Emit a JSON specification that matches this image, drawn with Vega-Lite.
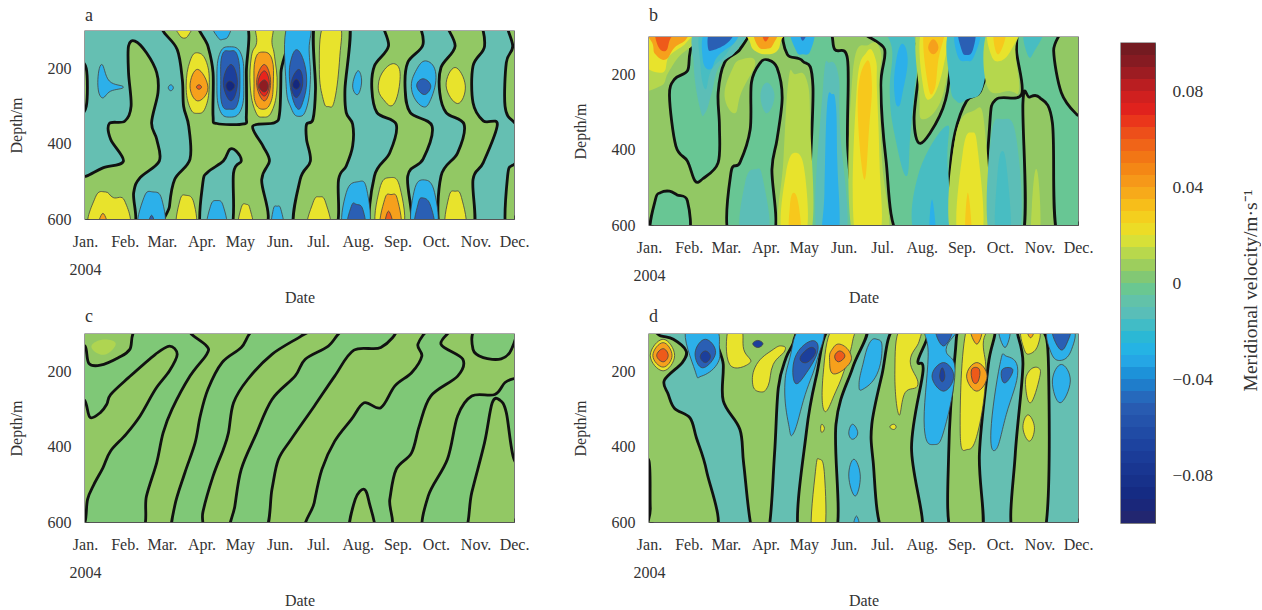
{"$schema":"https://vega.github.io/schema/vega-lite/v6.json","padding":{"left":7,"top":6,"right":0,"bottom":0},"background":"white",
"config":{"view":{"stroke":"#555","strokeWidth":1.4},"font":"Liberation Serif","axis":{"labelFont":"Liberation Serif","titleFont":"Liberation Serif","labelFontSize":16,"titleFontSize":16,"titleFontWeight":"normal","labelColor":"#333","titleColor":"#333","grid":false,"domainColor":"#555","tickColor":"#444","tickSize":-4,"zindex":1,"labelOverlap":false,"labelFlush":false},"title":{"font":"Liberation Serif","fontSize":18,"fontWeight":"normal","anchor":"start","color":"#333","frame":"group"}},
"datasets":{
"regions":[{"r":"a0","v":-0.01},{"r":"a1","v":0.005},{"r":"a2","v":0.005},{"r":"a3","v":0.005},{"r":"a4","v":-0.01},{"r":"a5","v":-0.01},{"r":"a6","v":0.005},{"r":"a7","v":0.005},{"r":"a8","v":0.005},{"r":"a9","v":0.005},{"r":"a10","v":0.005},{"r":"a11","v":-0.03},{"r":"a12","v":-0.03},{"r":"a13","v":0.02},{"r":"a14","v":-0.03},{"r":"a15","v":0.02},{"r":"a16","v":0.04},{"r":"a17","v":0.06},{"r":"a18","v":-0.03},{"r":"a19","v":-0.05},{"r":"a20","v":-0.07},{"r":"a21","v":-0.09},{"r":"a22","v":0.02},{"r":"a23","v":0.04},{"r":"a24","v":0.06},{"r":"a25","v":0.07},{"r":"a26","v":0.09},{"r":"a27","v":-0.03},{"r":"a28","v":-0.05},{"r":"a29","v":-0.07},{"r":"a30","v":-0.09},{"r":"a31","v":0.02},{"r":"a32","v":0.02},{"r":"a33","v":0.02},{"r":"a34","v":0.04},{"r":"a35","v":-0.03},{"r":"a36","v":-0.05},{"r":"a37","v":0.02},{"r":"a38","v":-0.03},{"r":"a39","v":0.02},{"r":"a40","v":-0.03},{"r":"a41","v":-0.03},{"r":"a42","v":-0.05},{"r":"a43","v":0.02},{"r":"a44","v":0.04},{"r":"a45","v":0.06},{"r":"a46","v":-0.03},{"r":"a47","v":-0.05},{"r":"a48","v":0.02},{"r":"a49","v":-0.03},{"r":"a50","v":0.02},{"r":"a51","v":-0.03},{"r":"a52","v":-0.05},{"r":"a53","v":0.02},
{"r":"b0","v":0.005},{"r":"b1","v":-0.003},{"r":"b2","v":-0.003},{"r":"b3","v":-0.003},{"r":"b4","v":-0.003},{"r":"b5","v":-0.003},{"r":"b6","v":0.005},{"r":"b7","v":-0.003},{"r":"b8","v":0.012},{"r":"b9","v":0.02},{"r":"b10","v":0.04},{"r":"b11","v":0.06},{"r":"b12","v":-0.012},{"r":"b13","v":-0.016},{"r":"b14","v":-0.03},{"r":"b15","v":-0.05},{"r":"b16","v":0.012},{"r":"b17","v":0.02},{"r":"b18","v":0.04},{"r":"b19","v":0.06},{"r":"b20","v":-0.012},{"r":"b21","v":-0.012},{"r":"b22","v":0.012},{"r":"b23","v":0.02},{"r":"b24","v":0.03},{"r":"b25","v":-0.012},{"r":"b26","v":-0.03},{"r":"b27","v":-0.03},{"r":"b28","v":-0.05},{"r":"b29","v":0.012},{"r":"b30","v":0.02},{"r":"b31","v":0.03},{"r":"b32","v":-0.016},{"r":"b33","v":-0.03},{"r":"b34","v":-0.016},{"r":"b35","v":-0.03},{"r":"b36","v":0.012},{"r":"b37","v":0.02},{"r":"b38","v":0.03},{"r":"b39","v":0.04},{"r":"b40","v":-0.016},{"r":"b41","v":-0.03},{"r":"b42","v":-0.05},{"r":"b43","v":0.012},{"r":"b44","v":0.02},{"r":"b45","v":0.03},{"r":"b46","v":-0.016},{"r":"b47","v":0.012},{"r":"b48","v":0.02},{"r":"b49","v":0.03},{"r":"b50","v":-0.012},{"r":"b51","v":-0.016},{"r":"b52","v":0.012},
{"r":"c0","v":0.005},{"r":"c1","v":0.002},{"r":"c2","v":0.002},{"r":"c3","v":0.002},{"r":"c4","v":0.002},{"r":"c5","v":0.005},{"r":"c6","v":0.002},{"r":"c7","v":0.002},{"r":"c8","v":0.011},
{"r":"d0","v":-0.01},{"r":"d1","v":0.005},{"r":"d2","v":0.005},{"r":"d3","v":0.005},{"r":"d4","v":0.005},{"r":"d5","v":0.005},{"r":"d6","v":0.005},{"r":"d7","v":0.02},{"r":"d8","v":0.04},{"r":"d9","v":0.06},{"r":"d10","v":-0.03},{"r":"d11","v":-0.05},{"r":"d12","v":-0.07},{"r":"d13","v":0.02},{"r":"d14","v":-0.07},{"r":"d15","v":0.02},{"r":"d16","v":-0.03},{"r":"d17","v":-0.05},{"r":"d18","v":-0.07},{"r":"d19","v":0.02},{"r":"d20","v":0.02},{"r":"d21","v":0.04},{"r":"d22","v":0.06},{"r":"d23","v":0.02},{"r":"d24","v":-0.03},{"r":"d25","v":-0.03},{"r":"d26","v":-0.03},{"r":"d27","v":-0.03},{"r":"d28","v":0.02},{"r":"d29","v":0.02},{"r":"d30","v":-0.03},{"r":"d31","v":-0.05},{"r":"d32","v":-0.05},{"r":"d33","v":-0.07},{"r":"d34","v":0.02},{"r":"d35","v":0.04},{"r":"d36","v":0.04},{"r":"d37","v":0.06},{"r":"d38","v":-0.03},{"r":"d39","v":-0.03},{"r":"d40","v":-0.05},{"r":"d41","v":0.02},{"r":"d42","v":0.04},{"r":"d43","v":0.02},{"r":"d44","v":0.02},{"r":"d45","v":-0.03},{"r":"d46","v":-0.05},{"r":"d47","v":-0.03}],
"a":[{"r":"a0","t":-30,"d":40},{"r":"a0","t":370,"d":40},{"r":"a0","t":370,"d":680},{"r":"a0","t":-30,"d":680},
{"r":"a1","t":1,"d":486},{"r":"a1","t":14,"d":464},{"r":"a1","t":30,"d":446},{"r":"a1","t":20,"d":388},{"r":"a1","t":19,"d":346},{"r":"a1","t":31,"d":340},{"r":"a1","t":36,"d":300},{"r":"a1","t":34,"d":211},{"r":"a1","t":34,"d":140},{"r":"a1","t":39,"d":127},{"r":"a1","t":48,"d":158},{"r":"a1","t":56,"d":211},{"r":"a1","t":57,"d":264},{"r":"a1","t":52,"d":344},{"r":"a1","t":56,"d":388},{"r":"a1","t":58,"d":446},{"r":"a1","t":43,"d":490},{"r":"a1","t":38,"d":530},{"r":"a1","t":36,"d":630},{"r":"a1","t":-8,"d":630},{"r":"a1","t":-8,"d":490},
{"r":"a2","t":-6,"d":190},{"r":"a2","t":1,"d":200},{"r":"a2","t":1,"d":300},{"r":"a2","t":-6,"d":315},
{"r":"a3","t":61,"d":70},{"r":"a3","t":61,"d":100},{"r":"a3","t":72,"d":149},{"r":"a3","t":76,"d":229},{"r":"a3","t":77,"d":300},{"r":"a3","t":81,"d":353},{"r":"a3","t":82,"d":441},{"r":"a3","t":70,"d":495},{"r":"a3","t":66,"d":566},{"r":"a3","t":66,"d":630},{"r":"a3","t":138,"d":630},{"r":"a3","t":138,"d":495},{"r":"a3","t":144,"d":446},{"r":"a3","t":139,"d":406},{"r":"a3","t":131,"d":353},{"r":"a3","t":148,"d":344},{"r":"a3","t":152,"d":317},{"r":"a3","t":153,"d":211},{"r":"a3","t":153,"d":70},
{"r":"a4","t":89,"d":75},{"r":"a4","t":96,"d":140},{"r":"a4","t":100,"d":211},{"r":"a4","t":100,"d":326},{"r":"a4","t":103,"d":346},{"r":"a4","t":124,"d":347},{"r":"a4","t":126,"d":326},{"r":"a4","t":126,"d":211},{"r":"a4","t":125,"d":75},
{"r":"a5","t":91,"d":630},{"r":"a5","t":92,"d":504},{"r":"a5","t":96,"d":475},{"r":"a5","t":108,"d":446},{"r":"a5","t":113,"d":415},{"r":"a5","t":118,"d":419},{"r":"a5","t":122,"d":446},{"r":"a5","t":116,"d":477},{"r":"a5","t":114,"d":630},
{"r":"a6","t":180,"d":70},{"r":"a6","t":180,"d":255},{"r":"a6","t":178,"d":335},{"r":"a6","t":173,"d":348},{"r":"a6","t":173,"d":388},{"r":"a6","t":176,"d":446},{"r":"a6","t":168,"d":495},{"r":"a6","t":164,"d":630},{"r":"a6","t":195,"d":630},{"r":"a6","t":198,"d":495},{"r":"a6","t":204,"d":459},{"r":"a6","t":209,"d":406},{"r":"a6","t":209,"d":348},{"r":"a6","t":204,"d":317},{"r":"a6","t":203,"d":255},{"r":"a6","t":206,"d":70},
{"r":"a7","t":233,"d":70},{"r":"a7","t":237,"d":140},{"r":"a7","t":226,"d":193},{"r":"a7","t":224,"d":255},{"r":"a7","t":228,"d":317},{"r":"a7","t":243,"d":348},{"r":"a7","t":238,"d":424},{"r":"a7","t":226,"d":486},{"r":"a7","t":224,"d":630},{"r":"a7","t":254,"d":630},{"r":"a7","t":252,"d":486},{"r":"a7","t":264,"d":441},{"r":"a7","t":271,"d":353},{"r":"a7","t":254,"d":317},{"r":"a7","t":250,"d":255},{"r":"a7","t":252,"d":184},{"r":"a7","t":264,"d":135},{"r":"a7","t":257,"d":70},
{"r":"a8","t":282,"d":70},{"r":"a8","t":289,"d":140},{"r":"a8","t":278,"d":197},{"r":"a8","t":277,"d":264},{"r":"a8","t":282,"d":317},{"r":"a8","t":296,"d":348},{"r":"a8","t":291,"d":424},{"r":"a8","t":278,"d":486},{"r":"a8","t":278,"d":630},{"r":"a8","t":303,"d":630},{"r":"a8","t":303,"d":495},{"r":"a8","t":311,"d":450},{"r":"a8","t":322,"d":348},{"r":"a8","t":311,"d":339},{"r":"a8","t":303,"d":291},{"r":"a8","t":303,"d":193},{"r":"a8","t":312,"d":140},{"r":"a8","t":306,"d":70},
{"r":"a9","t":329,"d":70},{"r":"a9","t":334,"d":140},{"r":"a9","t":329,"d":184},{"r":"a9","t":328,"d":300},{"r":"a9","t":334,"d":339},{"r":"a9","t":345,"d":345},{"r":"a9","t":345,"d":70},
{"r":"a10","t":334,"d":457},{"r":"a10","t":330,"d":486},{"r":"a10","t":329,"d":630},{"r":"a10","t":345,"d":630},{"r":"a10","t":345,"d":457},
{"r":"a11","t":13,"d":189},{"r":"a11","t":19,"d":233},{"r":"a11","t":30,"d":249},{"r":"a11","t":20,"d":260},{"r":"a11","t":13,"d":277},{"r":"a11","t":10,"d":237},
{"r":"a12","t":67,"d":243},{"r":"a12","t":69,"d":251},{"r":"a12","t":67,"d":259},{"r":"a12","t":65,"d":251},
{"r":"a13","t":71,"d":85},{"r":"a13","t":73,"d":107},{"r":"a13","t":77,"d":119},{"r":"a13","t":81,"d":110},{"r":"a13","t":83,"d":85},
{"r":"a14","t":100,"d":85},{"r":"a14","t":104,"d":118},{"r":"a14","t":108,"d":122},{"r":"a14","t":112,"d":113},{"r":"a14","t":113,"d":85},
{"r":"a15","t":88,"d":158},{"r":"a15","t":95,"d":184},{"r":"a15","t":97,"d":246},{"r":"a15","t":94,"d":304},{"r":"a15","t":88,"d":319},{"r":"a15","t":82,"d":304},{"r":"a15","t":79,"d":246},{"r":"a15","t":82,"d":180},
{"r":"a16","t":88,"d":202},{"r":"a16","t":96,"d":251},{"r":"a16","t":88,"d":286},{"r":"a16","t":82,"d":246},
{"r":"a17","t":89,"d":243},{"r":"a17","t":91,"d":249},{"r":"a17","t":89,"d":255},{"r":"a17","t":87,"d":249},
{"r":"a18","t":113,"d":142},{"r":"a18","t":122,"d":162},{"r":"a18","t":124,"d":236},{"r":"a18","t":122,"d":308},{"r":"a18","t":113,"d":329},{"r":"a18","t":105,"d":308},{"r":"a18","t":103,"d":236},{"r":"a18","t":105,"d":162},
{"r":"a19","t":113,"d":153},{"r":"a19","t":119,"d":165},{"r":"a19","t":121,"d":232},{"r":"a19","t":119,"d":295},{"r":"a19","t":113,"d":308},{"r":"a19","t":107,"d":295},{"r":"a19","t":106,"d":232},{"r":"a19","t":107,"d":165},
{"r":"a20","t":114,"d":189},{"r":"a20","t":119,"d":237},{"r":"a20","t":114,"d":286},{"r":"a20","t":108,"d":237},
{"r":"a21","t":113,"d":233},{"r":"a21","t":117,"d":246},{"r":"a21","t":113,"d":260},{"r":"a21","t":110,"d":246},
{"r":"a22","t":134,"d":85},{"r":"a22","t":134,"d":131},{"r":"a22","t":130,"d":167},{"r":"a22","t":129,"d":246},{"r":"a22","t":133,"d":313},{"r":"a22","t":139,"d":329},{"r":"a22","t":146,"d":313},{"r":"a22","t":150,"d":246},{"r":"a22","t":148,"d":167},{"r":"a22","t":146,"d":131},{"r":"a22","t":146,"d":85},
{"r":"a23","t":139,"d":156},{"r":"a23","t":146,"d":175},{"r":"a23","t":147,"d":240},{"r":"a23","t":145,"d":290},{"r":"a23","t":139,"d":308},{"r":"a23","t":133,"d":290},{"r":"a23","t":132,"d":240},{"r":"a23","t":133,"d":175},
{"r":"a24","t":140,"d":189},{"r":"a24","t":145,"d":237},{"r":"a24","t":140,"d":286},{"r":"a24","t":134,"d":237},
{"r":"a25","t":140,"d":206},{"r":"a25","t":144,"d":240},{"r":"a25","t":140,"d":273},{"r":"a25","t":135,"d":240},
{"r":"a26","t":140,"d":230},{"r":"a26","t":143,"d":246},{"r":"a26","t":140,"d":262},{"r":"a26","t":136,"d":246},
{"r":"a27","t":158,"d":85},{"r":"a27","t":157,"d":240},{"r":"a27","t":161,"d":305},{"r":"a27","t":167,"d":327},{"r":"a27","t":173,"d":305},{"r":"a27","t":176,"d":230},{"r":"a27","t":175,"d":150},{"r":"a27","t":175,"d":85},
{"r":"a28","t":167,"d":153},{"r":"a28","t":173,"d":220},{"r":"a28","t":170,"d":290},{"r":"a28","t":165,"d":303},{"r":"a28","t":160,"d":240},{"r":"a28","t":161,"d":175},
{"r":"a29","t":167,"d":202},{"r":"a29","t":170,"d":240},{"r":"a29","t":165,"d":277},{"r":"a29","t":161,"d":240},
{"r":"a30","t":165,"d":228},{"r":"a30","t":168,"d":243},{"r":"a30","t":165,"d":255},{"r":"a30","t":162,"d":243},
{"r":"a31","t":186,"d":85},{"r":"a31","t":183,"d":202},{"r":"a31","t":186,"d":282},{"r":"a31","t":190,"d":301},{"r":"a31","t":195,"d":282},{"r":"a31","t":199,"d":167},{"r":"a31","t":199,"d":85},
{"r":"a32","t":174,"d":630},{"r":"a32","t":178,"d":557},{"r":"a32","t":183,"d":541},{"r":"a32","t":188,"d":557},{"r":"a32","t":191,"d":630},
{"r":"a33","t":4,"d":630},{"r":"a33","t":8,"d":543},{"r":"a33","t":16,"d":528},{"r":"a33","t":22,"d":543},{"r":"a33","t":31,"d":552},{"r":"a33","t":33,"d":630},
{"r":"a34","t":10,"d":630},{"r":"a34","t":14,"d":585},{"r":"a34","t":18,"d":630},
{"r":"a35","t":42,"d":630},{"r":"a35","t":46,"d":543},{"r":"a35","t":53,"d":528},{"r":"a35","t":60,"d":548},{"r":"a35","t":61,"d":630},
{"r":"a36","t":49,"d":630},{"r":"a36","t":52,"d":590},{"r":"a36","t":55,"d":630},
{"r":"a37","t":72,"d":630},{"r":"a37","t":74,"d":552},{"r":"a37","t":79,"d":537},{"r":"a37","t":85,"d":557},{"r":"a37","t":86,"d":630},
{"r":"a38","t":96,"d":630},{"r":"a38","t":98,"d":566},{"r":"a38","t":103,"d":551},{"r":"a38","t":108,"d":566},{"r":"a38","t":110,"d":630},
{"r":"a39","t":120,"d":630},{"r":"a39","t":122,"d":570},{"r":"a39","t":126,"d":561},{"r":"a39","t":129,"d":575},{"r":"a39","t":131,"d":630},
{"r":"a40","t":146,"d":630},{"r":"a40","t":147,"d":575},{"r":"a40","t":150,"d":566},{"r":"a40","t":153,"d":575},{"r":"a40","t":155,"d":630},
{"r":"a41","t":202,"d":630},{"r":"a41","t":204,"d":530},{"r":"a41","t":213,"d":501},{"r":"a41","t":220,"d":521},{"r":"a41","t":221,"d":630},
{"r":"a42","t":205,"d":630},{"r":"a42","t":208,"d":566},{"r":"a42","t":212,"d":561},{"r":"a42","t":217,"d":575},{"r":"a42","t":218,"d":630},
{"r":"a43","t":228,"d":630},{"r":"a43","t":230,"d":521},{"r":"a43","t":238,"d":490},{"r":"a43","t":246,"d":517},{"r":"a43","t":248,"d":630},
{"r":"a44","t":231,"d":630},{"r":"a44","t":234,"d":548},{"r":"a44","t":239,"d":535},{"r":"a44","t":244,"d":548},{"r":"a44","t":246,"d":630},
{"r":"a45","t":234,"d":630},{"r":"a45","t":237,"d":579},{"r":"a45","t":241,"d":630},
{"r":"a46","t":256,"d":630},{"r":"a46","t":257,"d":526},{"r":"a46","t":265,"d":496},{"r":"a46","t":273,"d":530},{"r":"a46","t":274,"d":630},
{"r":"a47","t":258,"d":630},{"r":"a47","t":260,"d":561},{"r":"a47","t":264,"d":544},{"r":"a47","t":270,"d":566},{"r":"a47","t":272,"d":630},
{"r":"a48","t":282,"d":630},{"r":"a48","t":284,"d":543},{"r":"a48","t":289,"d":526},{"r":"a48","t":294,"d":543},{"r":"a48","t":297,"d":630},
{"r":"a49","t":213,"d":206},{"r":"a49","t":216,"d":233},{"r":"a49","t":213,"d":269},{"r":"a49","t":209,"d":246},
{"r":"a50","t":243,"d":189},{"r":"a50","t":246,"d":229},{"r":"a50","t":241,"d":295},{"r":"a50","t":233,"d":282},{"r":"a50","t":229,"d":246},{"r":"a50","t":234,"d":202},
{"r":"a51","t":267,"d":180},{"r":"a51","t":274,"d":215},{"r":"a51","t":270,"d":282},{"r":"a51","t":263,"d":300},{"r":"a51","t":255,"d":255},{"r":"a51","t":259,"d":202},
{"r":"a52","t":264,"d":227},{"r":"a52","t":270,"d":246},{"r":"a52","t":265,"d":269},{"r":"a52","t":259,"d":246},
{"r":"a53","t":289,"d":197},{"r":"a53","t":297,"d":246},{"r":"a53","t":291,"d":293},{"r":"a53","t":282,"d":246}],
"b":[{"r":"b0","t":-30,"d":40},{"r":"b0","t":370,"d":40},{"r":"b0","t":370,"d":680},{"r":"b0","t":-30,"d":680},
{"r":"b1","t":2,"d":630},{"r":"b1","t":5,"d":532},{"r":"b1","t":9,"d":514},{"r":"b1","t":16,"d":510},{"r":"b1","t":22,"d":520},{"r":"b1","t":30,"d":536},{"r":"b1","t":30,"d":630},
{"r":"b2","t":38,"d":80},{"r":"b2","t":32,"d":142},{"r":"b2","t":30,"d":190},{"r":"b2","t":20,"d":212},{"r":"b2","t":16,"d":257},{"r":"b2","t":21,"d":390},{"r":"b2","t":30,"d":430},{"r":"b2","t":36,"d":483},{"r":"b2","t":42,"d":477},{"r":"b2","t":54,"d":434},{"r":"b2","t":55,"d":337},{"r":"b2","t":54,"d":248},{"r":"b2","t":59,"d":168},{"r":"b2","t":71,"d":133},{"r":"b2","t":76,"d":80},
{"r":"b3","t":63,"d":630},{"r":"b3","t":64,"d":461},{"r":"b3","t":71,"d":434},{"r":"b3","t":79,"d":346},{"r":"b3","t":80,"d":221},{"r":"b3","t":87,"d":168},{"r":"b3","t":93,"d":161},{"r":"b3","t":100,"d":182},{"r":"b3","t":104,"d":261},{"r":"b3","t":100,"d":372},{"r":"b3","t":96,"d":452},{"r":"b3","t":97,"d":630},
{"r":"b4","t":107,"d":80},{"r":"b4","t":108,"d":146},{"r":"b4","t":120,"d":164},{"r":"b4","t":128,"d":230},{"r":"b4","t":127,"d":630},{"r":"b4","t":158,"d":630},{"r":"b4","t":155,"d":381},{"r":"b4","t":155,"d":159},{"r":"b4","t":145,"d":133},{"r":"b4","t":139,"d":80},
{"r":"b5","t":171,"d":80},{"r":"b5","t":184,"d":133},{"r":"b5","t":181,"d":230},{"r":"b5","t":185,"d":425},{"r":"b5","t":195,"d":630},{"r":"b5","t":234,"d":630},{"r":"b5","t":235,"d":461},{"r":"b5","t":239,"d":354},{"r":"b5","t":248,"d":270},{"r":"b5","t":260,"d":235},{"r":"b5","t":263,"d":80},
{"r":"b6","t":204,"d":80},{"r":"b6","t":210,"d":137},{"r":"b6","t":211,"d":186},{"r":"b6","t":207,"d":319},{"r":"b6","t":212,"d":383},{"r":"b6","t":227,"d":310},{"r":"b6","t":234,"d":222},{"r":"b6","t":234,"d":80},
{"r":"b7","t":292,"d":80},{"r":"b7","t":287,"d":133},{"r":"b7","t":291,"d":252},{"r":"b7","t":271,"d":266},{"r":"b7","t":266,"d":337},{"r":"b7","t":264,"d":630},{"r":"b7","t":292,"d":630},{"r":"b7","t":292,"d":275},{"r":"b7","t":297,"d":260},{"r":"b7","t":305,"d":261},{"r":"b7","t":315,"d":328},{"r":"b7","t":319,"d":630},{"r":"b7","t":345,"d":630},{"r":"b7","t":345,"d":328},{"r":"b7","t":334,"d":306},{"r":"b7","t":322,"d":248},{"r":"b7","t":316,"d":137},{"r":"b7","t":320,"d":80},
{"r":"b8","t":-8,"d":80},{"r":"b8","t":-8,"d":226},{"r":"b8","t":9,"d":230},{"r":"b8","t":15,"d":195},{"r":"b8","t":24,"d":150},{"r":"b8","t":36,"d":115},{"r":"b8","t":38,"d":80},
{"r":"b9","t":-8,"d":80},{"r":"b9","t":-8,"d":160},{"r":"b9","t":10,"d":195},{"r":"b9","t":16,"d":150},{"r":"b9","t":29,"d":115},{"r":"b9","t":32,"d":80},
{"r":"b10","t":0,"d":80},{"r":"b10","t":3,"d":120},{"r":"b10","t":5,"d":146},{"r":"b10","t":13,"d":160},{"r":"b10","t":20,"d":128},{"r":"b10","t":29,"d":106},{"r":"b10","t":29,"d":80},
{"r":"b11","t":6,"d":80},{"r":"b11","t":7,"d":124},{"r":"b11","t":13,"d":137},{"r":"b11","t":16,"d":110},{"r":"b11","t":19,"d":80},
{"r":"b12","t":38,"d":80},{"r":"b12","t":35,"d":177},{"r":"b12","t":40,"d":292},{"r":"b12","t":44,"d":301},{"r":"b12","t":49,"d":248},{"r":"b12","t":55,"d":177},{"r":"b12","t":68,"d":137},{"r":"b12","t":74,"d":80},
{"r":"b13","t":42,"d":80},{"r":"b13","t":40,"d":168},{"r":"b13","t":44,"d":239},{"r":"b13","t":49,"d":186},{"r":"b13","t":61,"d":142},{"r":"b13","t":68,"d":80},
{"r":"b14","t":45,"d":80},{"r":"b14","t":42,"d":159},{"r":"b14","t":48,"d":186},{"r":"b14","t":54,"d":150},{"r":"b14","t":68,"d":110},{"r":"b14","t":67,"d":80},
{"r":"b15","t":49,"d":80},{"r":"b15","t":46,"d":128},{"r":"b15","t":51,"d":134},{"r":"b15","t":63,"d":110},{"r":"b15","t":65,"d":80},
{"r":"b16","t":65,"d":186},{"r":"b16","t":59,"d":257},{"r":"b16","t":67,"d":303},{"r":"b16","t":72,"d":248},{"r":"b16","t":83,"d":168},{"r":"b16","t":72,"d":160},
{"r":"b17","t":78,"d":80},{"r":"b17","t":79,"d":115},{"r":"b17","t":83,"d":137},{"r":"b17","t":92,"d":146},{"r":"b17","t":100,"d":137},{"r":"b17","t":103,"d":110},{"r":"b17","t":105,"d":80},
{"r":"b18","t":83,"d":80},{"r":"b18","t":85,"d":124},{"r":"b18","t":92,"d":131},{"r":"b18","t":97,"d":119},{"r":"b18","t":100,"d":80},
{"r":"b19","t":88,"d":80},{"r":"b19","t":91,"d":112},{"r":"b19","t":95,"d":80},
{"r":"b20","t":92,"d":221},{"r":"b20","t":87,"d":257},{"r":"b20","t":92,"d":303},{"r":"b20","t":98,"d":257},
{"r":"b21","t":72,"d":630},{"r":"b21","t":75,"d":488},{"r":"b21","t":83,"d":452},{"r":"b21","t":89,"d":479},{"r":"b21","t":93,"d":630},
{"r":"b22","t":114,"d":199},{"r":"b22","t":109,"d":213},{"r":"b22","t":105,"d":425},{"r":"b22","t":102,"d":630},{"r":"b22","t":126,"d":630},{"r":"b22","t":126,"d":337},{"r":"b22","t":123,"d":213},
{"r":"b23","t":115,"d":408},{"r":"b23","t":107,"d":461},{"r":"b23","t":104,"d":630},{"r":"b23","t":122,"d":630},{"r":"b23","t":122,"d":470},
{"r":"b24","t":113,"d":514},{"r":"b24","t":110,"d":550},{"r":"b24","t":110,"d":630},{"r":"b24","t":118,"d":630},{"r":"b24","t":117,"d":550},
{"r":"b25","t":141,"d":168},{"r":"b25","t":136,"d":230},{"r":"b25","t":131,"d":630},{"r":"b25","t":154,"d":630},{"r":"b25","t":149,"d":337},{"r":"b25","t":148,"d":204},
{"r":"b26","t":143,"d":252},{"r":"b26","t":139,"d":284},{"r":"b26","t":137,"d":514},{"r":"b26","t":136,"d":630},{"r":"b26","t":148,"d":630},{"r":"b26","t":147,"d":425},{"r":"b26","t":146,"d":284},
{"r":"b27","t":111,"d":80},{"r":"b27","t":115,"d":137},{"r":"b27","t":120,"d":146},{"r":"b27","t":126,"d":137},{"r":"b27","t":128,"d":80},
{"r":"b28","t":118,"d":80},{"r":"b28","t":120,"d":110},{"r":"b28","t":124,"d":80},
{"r":"b29","t":172,"d":120},{"r":"b29","t":159,"d":200},{"r":"b29","t":159,"d":630},{"r":"b29","t":186,"d":630},{"r":"b29","t":182,"d":430},{"r":"b29","t":180,"d":230},{"r":"b29","t":181,"d":140},
{"r":"b30","t":170,"d":140},{"r":"b30","t":162,"d":250},{"r":"b30","t":161,"d":630},{"r":"b30","t":180,"d":630},{"r":"b30","t":180,"d":430},{"r":"b30","t":178,"d":240},{"r":"b30","t":177,"d":160},
{"r":"b31","t":170,"d":164},{"r":"b31","t":163,"d":266},{"r":"b31","t":168,"d":478},{"r":"b31","t":172,"d":337},{"r":"b31","t":174,"d":221},
{"r":"b32","t":186,"d":80},{"r":"b32","t":190,"d":140},{"r":"b32","t":188,"d":250},{"r":"b32","t":192,"d":363},{"r":"b32","t":201,"d":470},{"r":"b32","t":204,"d":363},{"r":"b32","t":207,"d":250},{"r":"b32","t":209,"d":159},{"r":"b32","t":204,"d":80},
{"r":"b33","t":197,"d":119},{"r":"b33","t":192,"d":186},{"r":"b33","t":192,"d":261},{"r":"b33","t":195,"d":284},{"r":"b33","t":198,"d":248},{"r":"b33","t":202,"d":159},
{"r":"b34","t":232,"d":337},{"r":"b34","t":210,"d":470},{"r":"b34","t":208,"d":630},{"r":"b34","t":233,"d":630},{"r":"b34","t":233,"d":425},
{"r":"b35","t":221,"d":532},{"r":"b35","t":219,"d":630},{"r":"b35","t":224,"d":630},
{"r":"b36","t":210,"d":80},{"r":"b36","t":211,"d":248},{"r":"b36","t":214,"d":319},{"r":"b36","t":230,"d":248},{"r":"b36","t":233,"d":80},
{"r":"b37","t":213,"d":80},{"r":"b37","t":214,"d":230},{"r":"b37","t":221,"d":261},{"r":"b37","t":230,"d":177},{"r":"b37","t":232,"d":80},
{"r":"b38","t":215,"d":80},{"r":"b38","t":218,"d":230},{"r":"b38","t":223,"d":239},{"r":"b38","t":226,"d":159},{"r":"b38","t":230,"d":80},
{"r":"b39","t":222,"d":106},{"r":"b39","t":218,"d":128},{"r":"b39","t":222,"d":146},{"r":"b39","t":226,"d":128},
{"r":"b40","t":235,"d":80},{"r":"b40","t":235,"d":221},{"r":"b40","t":240,"d":270},{"r":"b40","t":248,"d":266},{"r":"b40","t":261,"d":230},{"r":"b40","t":262,"d":80},
{"r":"b41","t":240,"d":80},{"r":"b41","t":241,"d":150},{"r":"b41","t":248,"d":164},{"r":"b41","t":254,"d":150},{"r":"b41","t":258,"d":80},
{"r":"b42","t":242,"d":80},{"r":"b42","t":244,"d":133},{"r":"b42","t":248,"d":148},{"r":"b42","t":253,"d":133},{"r":"b42","t":254,"d":80},
{"r":"b43","t":265,"d":80},{"r":"b43","t":264,"d":230},{"r":"b43","t":282,"d":244},{"r":"b43","t":289,"d":239},{"r":"b43","t":286,"d":133},{"r":"b43","t":289,"d":80},
{"r":"b44","t":266,"d":80},{"r":"b44","t":267,"d":146},{"r":"b44","t":274,"d":164},{"r":"b44","t":283,"d":133},{"r":"b44","t":287,"d":80},
{"r":"b45","t":270,"d":80},{"r":"b45","t":270,"d":128},{"r":"b45","t":274,"d":142},{"r":"b45","t":279,"d":80},
{"r":"b46","t":293,"d":80},{"r":"b46","t":296,"d":150},{"r":"b46","t":301,"d":137},{"r":"b46","t":308,"d":80},
{"r":"b47","t":253,"d":297},{"r":"b47","t":239,"d":372},{"r":"b47","t":236,"d":630},{"r":"b47","t":263,"d":630},{"r":"b47","t":262,"d":337},
{"r":"b48","t":252,"d":354},{"r":"b48","t":245,"d":408},{"r":"b48","t":241,"d":630},{"r":"b48","t":260,"d":630},{"r":"b48","t":257,"d":408},
{"r":"b49","t":249,"d":514},{"r":"b49","t":247,"d":630},{"r":"b49","t":252,"d":630},
{"r":"b50","t":276,"d":319},{"r":"b50","t":267,"d":372},{"r":"b50","t":266,"d":630},{"r":"b50","t":289,"d":630},{"r":"b50","t":287,"d":372},
{"r":"b51","t":276,"d":403},{"r":"b51","t":272,"d":470},{"r":"b51","t":271,"d":630},{"r":"b51","t":282,"d":630},{"r":"b51","t":280,"d":470},
{"r":"b52","t":302,"d":452},{"r":"b52","t":299,"d":550},{"r":"b52","t":299,"d":630},{"r":"b52","t":305,"d":630},{"r":"b52","t":305,"d":514}],
"c":[{"r":"c0","t":-30,"d":40},{"r":"c0","t":370,"d":40},{"r":"c0","t":370,"d":680},{"r":"c0","t":-30,"d":680},
{"r":"c1","t":42,"d":85},{"r":"c1","t":35,"d":141},{"r":"c1","t":26,"d":163},{"r":"c1","t":12,"d":183},{"r":"c1","t":3,"d":178},{"r":"c1","t":0,"d":132},{"r":"c1","t":-8,"d":140},{"r":"c1","t":-8,"d":250},{"r":"c1","t":0,"d":278},{"r":"c1","t":4,"d":322},{"r":"c1","t":12,"d":309},{"r":"c1","t":17,"d":287},{"r":"c1","t":20,"d":261},{"r":"c1","t":34,"d":216},{"r":"c1","t":55,"d":154},{"r":"c1","t":66,"d":132},{"r":"c1","t":72,"d":154},{"r":"c1","t":66,"d":198},{"r":"c1","t":55,"d":247},{"r":"c1","t":43,"d":318},{"r":"c1","t":32,"d":367},{"r":"c1","t":20,"d":411},{"r":"c1","t":14,"d":456},{"r":"c1","t":7,"d":500},{"r":"c1","t":2,"d":540},{"r":"c1","t":0,"d":600},{"r":"c1","t":-6,"d":630},{"r":"c1","t":42,"d":630},{"r":"c1","t":48,"d":531},{"r":"c1","t":56,"d":442},{"r":"c1","t":61,"d":363},{"r":"c1","t":68,"d":300},{"r":"c1","t":82,"d":212},{"r":"c1","t":95,"d":154},{"r":"c1","t":95,"d":132},{"r":"c1","t":83,"d":100},{"r":"c1","t":82,"d":85},
{"r":"c2","t":135,"d":85},{"r":"c2","t":122,"d":136},{"r":"c2","t":107,"d":176},{"r":"c2","t":96,"d":247},{"r":"c2","t":90,"d":318},{"r":"c2","t":86,"d":389},{"r":"c2","t":78,"d":469},{"r":"c2","t":70,"d":558},{"r":"c2","t":69,"d":630},{"r":"c2","t":91,"d":630},{"r":"c2","t":92,"d":575},{"r":"c2","t":100,"d":478},{"r":"c2","t":108,"d":407},{"r":"c2","t":112,"d":363},{"r":"c2","t":116,"d":283},{"r":"c2","t":127,"d":221},{"r":"c2","t":146,"d":154},{"r":"c2","t":169,"d":105},{"r":"c2","t":176,"d":85},
{"r":"c3","t":205,"d":85},{"r":"c3","t":190,"d":132},{"r":"c3","t":172,"d":167},{"r":"c3","t":164,"d":212},{"r":"c3","t":146,"d":274},{"r":"c3","t":133,"d":371},{"r":"c3","t":122,"d":460},{"r":"c3","t":117,"d":558},{"r":"c3","t":114,"d":630},{"r":"c3","t":140,"d":630},{"r":"c3","t":146,"d":513},{"r":"c3","t":151,"d":434},{"r":"c3","t":161,"d":380},{"r":"c3","t":179,"d":292},{"r":"c3","t":195,"d":212},{"r":"c3","t":210,"d":143},{"r":"c3","t":231,"d":136},{"r":"c3","t":242,"d":85},
{"r":"c4","t":270,"d":85},{"r":"c4","t":260,"d":127},{"r":"c4","t":263,"d":159},{"r":"c4","t":255,"d":203},{"r":"c4","t":242,"d":238},{"r":"c4","t":231,"d":296},{"r":"c4","t":218,"d":283},{"r":"c4","t":208,"d":327},{"r":"c4","t":195,"d":385},{"r":"c4","t":185,"d":460},{"r":"c4","t":179,"d":549},{"r":"c4","t":175,"d":630},{"r":"c4","t":235,"d":630},{"r":"c4","t":238,"d":540},{"r":"c4","t":243,"d":460},{"r":"c4","t":255,"d":416},{"r":"c4","t":261,"d":345},{"r":"c4","t":270,"d":265},{"r":"c4","t":291,"d":212},{"r":"c4","t":295,"d":167},{"r":"c4","t":278,"d":127},{"r":"c4","t":286,"d":85},
{"r":"c5","t":207,"d":630},{"r":"c5","t":211,"d":540},{"r":"c5","t":218,"d":513},{"r":"c5","t":222,"d":549},{"r":"c5","t":226,"d":630},
{"r":"c6","t":306,"d":85},{"r":"c6","t":303,"d":141},{"r":"c6","t":311,"d":163},{"r":"c6","t":325,"d":166},{"r":"c6","t":333,"d":141},{"r":"c6","t":335,"d":85},
{"r":"c7","t":265,"d":630},{"r":"c7","t":268,"d":531},{"r":"c7","t":283,"d":433},{"r":"c7","t":291,"d":318},{"r":"c7","t":302,"d":265},{"r":"c7","t":320,"d":261},{"r":"c7","t":328,"d":229},{"r":"c7","t":336,"d":218},{"r":"c7","t":345,"d":220},{"r":"c7","t":345,"d":440},{"r":"c7","t":335,"d":433},{"r":"c7","t":329,"d":309},{"r":"c7","t":324,"d":276},{"r":"c7","t":318,"d":283},{"r":"c7","t":312,"d":389},{"r":"c7","t":302,"d":522},{"r":"c7","t":295,"d":630},
{"r":"c8","t":5,"d":135},{"r":"c8","t":13,"d":115},{"r":"c8","t":24,"d":125},{"r":"c8","t":15,"d":155}],
"d":[{"r":"d0","t":-30,"d":40},{"r":"d0","t":370,"d":40},{"r":"d0","t":370,"d":680},{"r":"d0","t":-30,"d":680},
{"r":"d1","t":-8,"d":90},{"r":"d1","t":9,"d":105},{"r":"d1","t":19,"d":114},{"r":"d1","t":29,"d":145},{"r":"d1","t":26,"d":176},{"r":"d1","t":12,"d":223},{"r":"d1","t":15,"d":260},{"r":"d1","t":20,"d":298},{"r":"d1","t":32,"d":323},{"r":"d1","t":37,"d":376},{"r":"d1","t":45,"d":465},{"r":"d1","t":52,"d":630},{"r":"d1","t":3,"d":630},{"r":"d1","t":1,"d":562},{"r":"d1","t":0,"d":438},{"r":"d1","t":-8,"d":420},
{"r":"d2","t":55,"d":85},{"r":"d2","t":58,"d":181},{"r":"d2","t":58,"d":278},{"r":"d2","t":71,"d":354},{"r":"d2","t":74,"d":447},{"r":"d2","t":81,"d":630},{"r":"d2","t":93,"d":630},{"r":"d2","t":98,"d":420},{"r":"d2","t":101,"d":243},{"r":"d2","t":107,"d":163},{"r":"d2","t":113,"d":119},{"r":"d2","t":109,"d":85},
{"r":"d3","t":141,"d":85},{"r":"d3","t":131,"d":207},{"r":"d3","t":123,"d":358},{"r":"d3","t":117,"d":630},{"r":"d3","t":146,"d":630},{"r":"d3","t":146,"d":340},{"r":"d3","t":159,"d":190},{"r":"d3","t":170,"d":85},
{"r":"d4","t":191,"d":85},{"r":"d4","t":182,"d":207},{"r":"d4","t":174,"d":340},{"r":"d4","t":175,"d":438},{"r":"d4","t":183,"d":630},{"r":"d4","t":213,"d":630},{"r":"d4","t":205,"d":402},{"r":"d4","t":214,"d":198},{"r":"d4","t":210,"d":172},{"r":"d4","t":218,"d":85},
{"r":"d5","t":244,"d":85},{"r":"d5","t":239,"d":154},{"r":"d5","t":234,"d":420},{"r":"d5","t":236,"d":630},{"r":"d5","t":260,"d":630},{"r":"d5","t":258,"d":420},{"r":"d5","t":265,"d":181},{"r":"d5","t":269,"d":85},
{"r":"d6","t":288,"d":85},{"r":"d6","t":292,"d":181},{"r":"d6","t":286,"d":420},{"r":"d6","t":284,"d":630},{"r":"d6","t":309,"d":630},{"r":"d6","t":312,"d":190},{"r":"d6","t":306,"d":85},
{"r":"d7","t":11,"d":114},{"r":"d7","t":20,"d":157},{"r":"d7","t":11,"d":198},{"r":"d7","t":1,"d":157},
{"r":"d8","t":11,"d":123},{"r":"d8","t":18,"d":157},{"r":"d8","t":11,"d":188},{"r":"d8","t":3,"d":157},
{"r":"d9","t":11,"d":139},{"r":"d9","t":15,"d":157},{"r":"d9","t":11,"d":174},{"r":"d9","t":6,"d":157},
{"r":"d10","t":29,"d":85},{"r":"d10","t":36,"d":198},{"r":"d10","t":41,"d":212},{"r":"d10","t":53,"d":181},{"r":"d10","t":55,"d":136},{"r":"d10","t":51,"d":85},
{"r":"d11","t":44,"d":114},{"r":"d11","t":52,"d":150},{"r":"d11","t":42,"d":190},{"r":"d11","t":36,"d":150},
{"r":"d12","t":44,"d":145},{"r":"d12","t":48,"d":160},{"r":"d12","t":44,"d":176},{"r":"d12","t":40,"d":160},
{"r":"d13","t":62,"d":85},{"r":"d13","t":63,"d":181},{"r":"d13","t":79,"d":176},{"r":"d13","t":74,"d":141},{"r":"d13","t":72,"d":85},
{"r":"d14","t":85,"d":117},{"r":"d14","t":89,"d":126},{"r":"d14","t":85,"d":136},{"r":"d14","t":81,"d":126},
{"r":"d15","t":104,"d":132},{"r":"d15","t":106,"d":145},{"r":"d15","t":97,"d":181},{"r":"d15","t":93,"d":238},{"r":"d15","t":87,"d":254},{"r":"d15","t":81,"d":234},{"r":"d15","t":84,"d":181},{"r":"d15","t":97,"d":141},
{"r":"d16","t":118,"d":85},{"r":"d16","t":110,"d":163},{"r":"d16","t":106,"d":243},{"r":"d16","t":109,"d":340},{"r":"d16","t":113,"d":363},{"r":"d16","t":122,"d":261},{"r":"d16","t":131,"d":172},{"r":"d16","t":136,"d":85},
{"r":"d17","t":126,"d":119},{"r":"d17","t":132,"d":141},{"r":"d17","t":123,"d":203},{"r":"d17","t":114,"d":230},{"r":"d17","t":114,"d":163},
{"r":"d18","t":126,"d":136},{"r":"d18","t":130,"d":150},{"r":"d18","t":123,"d":176},{"r":"d18","t":118,"d":163},
{"r":"d19","t":135,"d":340},{"r":"d19","t":137,"d":351},{"r":"d19","t":135,"d":362},{"r":"d19","t":134,"d":351},
{"r":"d20","t":143,"d":85},{"r":"d20","t":136,"d":207},{"r":"d20","t":137,"d":305},{"r":"d20","t":146,"d":252},{"r":"d20","t":154,"d":181},{"r":"d20","t":159,"d":119},{"r":"d20","t":159,"d":85},
{"r":"d21","t":149,"d":127},{"r":"d21","t":157,"d":150},{"r":"d21","t":156,"d":181},{"r":"d21","t":144,"d":206},{"r":"d21","t":141,"d":167},{"r":"d21","t":143,"d":141},
{"r":"d22","t":149,"d":145},{"r":"d22","t":153,"d":159},{"r":"d22","t":148,"d":174},{"r":"d22","t":145,"d":159},
{"r":"d23","t":133,"d":433},{"r":"d23","t":130,"d":465},{"r":"d23","t":127,"d":630},{"r":"d23","t":137,"d":630},{"r":"d23","t":137,"d":473},
{"r":"d24","t":159,"d":340},{"r":"d24","t":163,"d":363},{"r":"d24","t":159,"d":380},{"r":"d24","t":156,"d":363},
{"r":"d25","t":160,"d":433},{"r":"d25","t":165,"d":478},{"r":"d25","t":161,"d":531},{"r":"d25","t":156,"d":478},
{"r":"d26","t":159,"d":630},{"r":"d26","t":162,"d":584},{"r":"d26","t":165,"d":630},
{"r":"d27","t":178,"d":114},{"r":"d27","t":182,"d":136},{"r":"d27","t":178,"d":207},{"r":"d27","t":167,"d":247},{"r":"d27","t":164,"d":234},{"r":"d27","t":167,"d":181},{"r":"d27","t":172,"d":125},
{"r":"d28","t":196,"d":85},{"r":"d28","t":192,"d":198},{"r":"d28","t":195,"d":314},{"r":"d28","t":200,"d":256},{"r":"d28","t":210,"d":234},{"r":"d28","t":204,"d":172},{"r":"d28","t":211,"d":119},{"r":"d28","t":211,"d":85},
{"r":"d29","t":191,"d":340},{"r":"d29","t":193,"d":347},{"r":"d29","t":191,"d":354},{"r":"d29","t":188,"d":347},
{"r":"d30","t":217,"d":85},{"r":"d30","t":218,"d":159},{"r":"d30","t":215,"d":349},{"r":"d30","t":223,"d":394},{"r":"d30","t":231,"d":349},{"r":"d30","t":239,"d":198},{"r":"d30","t":232,"d":141},{"r":"d30","t":240,"d":85},
{"r":"d31","t":224,"d":85},{"r":"d31","t":230,"d":132},{"r":"d31","t":237,"d":85},
{"r":"d32","t":230,"d":176},{"r":"d32","t":238,"d":212},{"r":"d32","t":230,"d":252},{"r":"d32","t":221,"d":212},
{"r":"d33","t":229,"d":190},{"r":"d33","t":231,"d":212},{"r":"d33","t":229,"d":227},{"r":"d33","t":227,"d":212},
{"r":"d34","t":248,"d":85},{"r":"d34","t":243,"d":358},{"r":"d34","t":249,"d":407},{"r":"d34","t":257,"d":358},{"r":"d34","t":263,"d":216},{"r":"d34","t":261,"d":127},{"r":"d34","t":263,"d":85},
{"r":"d35","t":251,"d":85},{"r":"d35","t":256,"d":127},{"r":"d35","t":260,"d":85},
{"r":"d36","t":256,"d":176},{"r":"d36","t":264,"d":212},{"r":"d36","t":256,"d":252},{"r":"d36","t":248,"d":212},
{"r":"d37","t":252,"d":194},{"r":"d37","t":258,"d":194},{"r":"d37","t":257,"d":226},{"r":"d37","t":253,"d":227},
{"r":"d38","t":273,"d":85},{"r":"d38","t":278,"d":136},{"r":"d38","t":282,"d":85},
{"r":"d39","t":279,"d":159},{"r":"d39","t":288,"d":198},{"r":"d39","t":279,"d":314},{"r":"d39","t":271,"d":407},{"r":"d39","t":267,"d":358},{"r":"d39","t":274,"d":181},
{"r":"d40","t":276,"d":194},{"r":"d40","t":284,"d":194},{"r":"d40","t":280,"d":225},{"r":"d40","t":276,"d":225},
{"r":"d41","t":291,"d":85},{"r":"d41","t":293,"d":141},{"r":"d41","t":298,"d":152},{"r":"d41","t":304,"d":127},{"r":"d41","t":304,"d":85},
{"r":"d42","t":295,"d":85},{"r":"d42","t":298,"d":110},{"r":"d42","t":301,"d":85},
{"r":"d43","t":304,"d":190},{"r":"d43","t":305,"d":216},{"r":"d43","t":298,"d":283},{"r":"d43","t":294,"d":234},{"r":"d43","t":297,"d":198},
{"r":"d44","t":296,"d":315},{"r":"d44","t":301,"d":349},{"r":"d44","t":297,"d":385},{"r":"d44","t":292,"d":349},
{"r":"d45","t":312,"d":85},{"r":"d45","t":314,"d":150},{"r":"d45","t":322,"d":170},{"r":"d45","t":330,"d":141},{"r":"d45","t":331,"d":85},
{"r":"d46","t":315,"d":85},{"r":"d46","t":321,"d":141},{"r":"d46","t":327,"d":119},{"r":"d46","t":328,"d":85},
{"r":"d47","t":322,"d":181},{"r":"d47","t":329,"d":225},{"r":"d47","t":321,"d":283},{"r":"d47","t":315,"d":225}],
"bar":[{"a":-0.1,"b":-0.095,"v":-0.0975},{"a":-0.095,"b":-0.09,"v":-0.0925},{"a":-0.09,"b":-0.085,"v":-0.0875},{"a":-0.085,"b":-0.08,"v":-0.0825},{"a":-0.08,"b":-0.075,"v":-0.0775},{"a":-0.075,"b":-0.07,"v":-0.0725},{"a":-0.07,"b":-0.065,"v":-0.0675},{"a":-0.065,"b":-0.06,"v":-0.0625},{"a":-0.06,"b":-0.055,"v":-0.0575},{"a":-0.055,"b":-0.05,"v":-0.0525},{"a":-0.05,"b":-0.045,"v":-0.0475},{"a":-0.045,"b":-0.04,"v":-0.0425},{"a":-0.04,"b":-0.035,"v":-0.0375},{"a":-0.035,"b":-0.03,"v":-0.0325},{"a":-0.03,"b":-0.025,"v":-0.0275},{"a":-0.025,"b":-0.02,"v":-0.0225},{"a":-0.02,"b":-0.015,"v":-0.0175},{"a":-0.015,"b":-0.01,"v":-0.0125},{"a":-0.01,"b":-0.005,"v":-0.0075},{"a":-0.005,"b":0,"v":-0.0025},{"a":0,"b":0.005,"v":0.0025},{"a":0.005,"b":0.01,"v":0.0075},{"a":0.01,"b":0.015,"v":0.0125},{"a":0.015,"b":0.02,"v":0.0175},{"a":0.02,"b":0.025,"v":0.0225},{"a":0.025,"b":0.03,"v":0.0275},{"a":0.03,"b":0.035,"v":0.0325},{"a":0.035,"b":0.04,"v":0.0375},{"a":0.04,"b":0.045,"v":0.0425},{"a":0.045,"b":0.05,"v":0.0475},{"a":0.05,"b":0.055,"v":0.0525},{"a":0.055,"b":0.06,"v":0.0575},{"a":0.06,"b":0.065,"v":0.0625},{"a":0.065,"b":0.07,"v":0.0675},{"a":0.07,"b":0.075,"v":0.0725},{"a":0.075,"b":0.08,"v":0.0775},{"a":0.08,"b":0.085,"v":0.0825},{"a":0.085,"b":0.09,"v":0.0875},{"a":0.09,"b":0.095,"v":0.0925},{"a":0.095,"b":0.1,"v":0.0975}]},
"hconcat":[{"hconcat":[
{"vconcat":[
{"width":429,"height":188,"title":{"text":"a","offset":6},"data":{"name":"a"},"transform":[{"window":[{"op":"row_number","as":"i"}]},{"lookup":"r","from":{"data":{"name":"regions"},"key":"r","fields":["v"]}}],
"encoding":{"x":{"field":"t","type":"quantitative","scale":{"domain":[0,335],"nice":false},"axis":{"values":[0,31,60,91,121,152,182,213,244,274,305,335],"labelExpr":"datum.value==0?['Jan.','2004']:datum.value==31?'Feb.':datum.value==60?'Mar.':datum.value==91?'Apr.':datum.value==121?'May':datum.value==152?'Jun.':datum.value==182?'Jul.':datum.value==213?'Aug.':datum.value==244?'Sep.':datum.value==274?'Oct.':datum.value==305?'Nov.':'Dec.'","labelPadding":18,"labelLineHeight":28,"title":"Date","titleY":70}},"y":{"field":"d","type":"quantitative","scale":{"domain":[600,100],"nice":false},"axis":{"values":[200,400,600],"labelPadding":18,"title":"Depth/m","titleX":-61}},"fill":{"field":"v","type":"quantitative","legend":null,"scale":{"domain":[-0.1,-0.09,-0.07,-0.05,-0.03,-0.01,0.005,0.02,0.03,0.04,0.06,0.07,0.08,0.09,0.1],"range":["#25256b","#14287f","#1c3f9c","#2a5fb4","#2cb0ea","#65bfb2","#92c864","#e8e32c","#f7c81c","#f6a01c","#ee5a1a","#e8241c","#c81f20","#8f1c22","#6b1a20"]}},"detail":{"field":"r"},"order":{"field":"i"}},
"layer":[{"transform":[{"filter":"abs(datum.v)<=0.01"}],"mark":{"type":"line","interpolate":"cardinal-closed","stroke":"#111","strokeWidth":2.8,"strokeJoin":"round","clip":true}},{"transform":[{"filter":"abs(datum.v)>0.01"}],"mark":{"type":"line","interpolate":"cardinal-closed","tension":-0.3,"stroke":"#444","strokeWidth":0.8,"clip":true}}]},
{"width":429,"height":188,"title":{"text":"c","offset":8},"data":{"name":"c"},"transform":[{"window":[{"op":"row_number","as":"i"}]},{"lookup":"r","from":{"data":{"name":"regions"},"key":"r","fields":["v"]}}],
"encoding":{"x":{"field":"t","type":"quantitative","scale":{"domain":[0,335],"nice":false},"axis":{"values":[0,31,60,91,121,152,182,213,244,274,305,335],"labelExpr":"datum.value==0?['Jan.','2004']:datum.value==31?'Feb.':datum.value==60?'Mar.':datum.value==91?'Apr.':datum.value==121?'May':datum.value==152?'Jun.':datum.value==182?'Jul.':datum.value==213?'Aug.':datum.value==244?'Sep.':datum.value==274?'Oct.':datum.value==305?'Nov.':'Dec.'","labelPadding":18,"labelLineHeight":28,"title":"Date","titleY":70}},"y":{"field":"d","type":"quantitative","scale":{"domain":[600,100],"nice":false},"axis":{"values":[200,400,600],"labelPadding":18,"title":"Depth/m","titleX":-61}},"fill":{"field":"v","type":"quantitative","legend":null,"scale":{"domain":[-0.1,-0.09,-0.07,-0.05,-0.03,-0.01,0.005,0.02,0.03,0.04,0.06,0.07,0.08,0.09,0.1],"range":["#25256b","#14287f","#1c3f9c","#2a5fb4","#2cb0ea","#65bfb2","#92c864","#e8e32c","#f7c81c","#f6a01c","#ee5a1a","#e8241c","#c81f20","#8f1c22","#6b1a20"]}},"detail":{"field":"r"},"order":{"field":"i"}},
"layer":[{"transform":[{"filter":"abs(datum.v)<=0.01"}],"mark":{"type":"line","interpolate":"cardinal-closed","stroke":"#111","strokeWidth":2.8,"strokeJoin":"round","clip":true}},{"transform":[{"filter":"abs(datum.v)>0.01"}],"mark":{"type":"line","interpolate":"cardinal-closed","tension":-0.3,"strokeWidth":0,"clip":true}}]}
],"spacing":115,"bounds":"flush"},
{"vconcat":[
{"width":1,"height":1,"view":{"stroke":null},"data":{"values":[{"k":1}]},"mark":{"type":"point","opacity":0},"encoding":{}},
{"vconcat":[
{"width":429,"height":188,"title":{"text":"b","offset":12},"data":{"name":"b"},"transform":[{"window":[{"op":"row_number","as":"i"}]},{"lookup":"r","from":{"data":{"name":"regions"},"key":"r","fields":["v"]}}],
"encoding":{"x":{"field":"t","type":"quantitative","scale":{"domain":[0,335],"nice":false},"axis":{"values":[0,31,60,91,121,152,182,213,244,274,305,335],"labelExpr":"datum.value==0?['Jan.','2004']:datum.value==31?'Feb.':datum.value==60?'Mar.':datum.value==91?'Apr.':datum.value==121?'May':datum.value==152?'Jun.':datum.value==182?'Jul.':datum.value==213?'Aug.':datum.value==244?'Sep.':datum.value==274?'Oct.':datum.value==305?'Nov.':'Dec.'","labelPadding":18,"labelLineHeight":28,"title":"Date","titleY":64}},"y":{"field":"d","type":"quantitative","scale":{"domain":[600,100],"nice":false},"axis":{"values":[200,400,600],"labelPadding":18,"title":"Depth/m","titleX":-61}},"fill":{"field":"v","type":"quantitative","legend":null,"scale":{"domain":[-0.1,-0.09,-0.07,-0.05,-0.03,-0.01,0.005,0.02,0.03,0.04,0.06,0.07,0.08,0.09,0.1],"range":["#25256b","#14287f","#1c3f9c","#2a5fb4","#2cb0ea","#65bfb2","#92c864","#e8e32c","#f7c81c","#f6a01c","#ee5a1a","#e8241c","#c81f20","#8f1c22","#6b1a20"]}},"detail":{"field":"r"},"order":{"field":"i"}},
"layer":[{"transform":[{"filter":"abs(datum.v)<=0.01"}],"mark":{"type":"line","interpolate":"cardinal-closed","stroke":"#111","strokeWidth":2.8,"strokeJoin":"round","clip":true}},{"transform":[{"filter":"abs(datum.v)>0.01"}],"mark":{"type":"line","interpolate":"cardinal-closed","tension":-0.3,"strokeWidth":0,"clip":true}}]},
{"width":429,"height":188,"title":{"text":"d","offset":8},"data":{"name":"d"},"transform":[{"window":[{"op":"row_number","as":"i"}]},{"lookup":"r","from":{"data":{"name":"regions"},"key":"r","fields":["v"]}}],
"encoding":{"x":{"field":"t","type":"quantitative","scale":{"domain":[0,335],"nice":false},"axis":{"values":[0,31,60,91,121,152,182,213,244,274,305,335],"labelExpr":"datum.value==0?['Jan.','2004']:datum.value==31?'Feb.':datum.value==60?'Mar.':datum.value==91?'Apr.':datum.value==121?'May':datum.value==152?'Jun.':datum.value==182?'Jul.':datum.value==213?'Aug.':datum.value==244?'Sep.':datum.value==274?'Oct.':datum.value==305?'Nov.':'Dec.'","labelPadding":18,"labelLineHeight":28,"title":"Date","titleY":70}},"y":{"field":"d","type":"quantitative","scale":{"domain":[600,100],"nice":false},"axis":{"values":[200,400,600],"labelPadding":18,"title":"Depth/m","titleX":-61}},"fill":{"field":"v","type":"quantitative","legend":null,"scale":{"domain":[-0.1,-0.09,-0.07,-0.05,-0.03,-0.01,0.005,0.02,0.03,0.04,0.06,0.07,0.08,0.09,0.1],"range":["#25256b","#14287f","#1c3f9c","#2a5fb4","#2cb0ea","#65bfb2","#92c864","#e8e32c","#f7c81c","#f6a01c","#ee5a1a","#e8241c","#c81f20","#8f1c22","#6b1a20"]}},"detail":{"field":"r"},"order":{"field":"i"}},
"layer":[{"transform":[{"filter":"abs(datum.v)<=0.01"}],"mark":{"type":"line","interpolate":"cardinal-closed","stroke":"#111","strokeWidth":2.8,"strokeJoin":"round","clip":true}},{"transform":[{"filter":"abs(datum.v)>0.01"}],"mark":{"type":"line","interpolate":"cardinal-closed","tension":-0.3,"stroke":"#444","strokeWidth":0.8,"clip":true}}]}
],"spacing":109,"bounds":"flush"}
],"spacing":5,"bounds":"flush"}
],"spacing":564,"bounds":"flush"},
{"vconcat":[
{"width":1,"height":1,"view":{"stroke":null},"data":{"values":[{"k":1}]},"mark":{"type":"point","opacity":0},"encoding":{}},
{"width":34,"height":480,"data":{"name":"bar"},"mark":{"type":"rect"},"encoding":{"y":{"field":"a","type":"quantitative","scale":{"domain":[-0.1,0.1],"nice":false},"axis":{"orient":"right","values":[-0.08,-0.06,-0.04,-0.02,0,0.02,0.04,0.06,0.08],"labelExpr":"abs(datum.value)==0.06||abs(datum.value)==0.02?'':datum.value==0?'0':replace(format(datum.value,'.2f'),'-','−')","labelFontSize":17.5,"labelPadding":22,"tickSize":-5,"title":"Meridional velocity/m·s⁻¹","titleFontSize":19.5,"titleAngle":-90,"titleX":105,"titleY":247}},"y2":{"field":"b"},"fill":{"field":"v","type":"quantitative","legend":null,"scale":{"domain":[-0.1,-0.09,-0.07,-0.05,-0.03,-0.01,0.005,0.02,0.03,0.04,0.06,0.07,0.08,0.09,0.1],"range":["#25256b","#14287f","#1c3f9c","#2a5fb4","#2cb0ea","#65bfb2","#92c864","#e8e32c","#f7c81c","#f6a01c","#ee5a1a","#e8241c","#c81f20","#8f1c22","#6b1a20"]}}}}
],"spacing":11,"bounds":"flush"}
],"spacing":1036,"bounds":"flush"}
